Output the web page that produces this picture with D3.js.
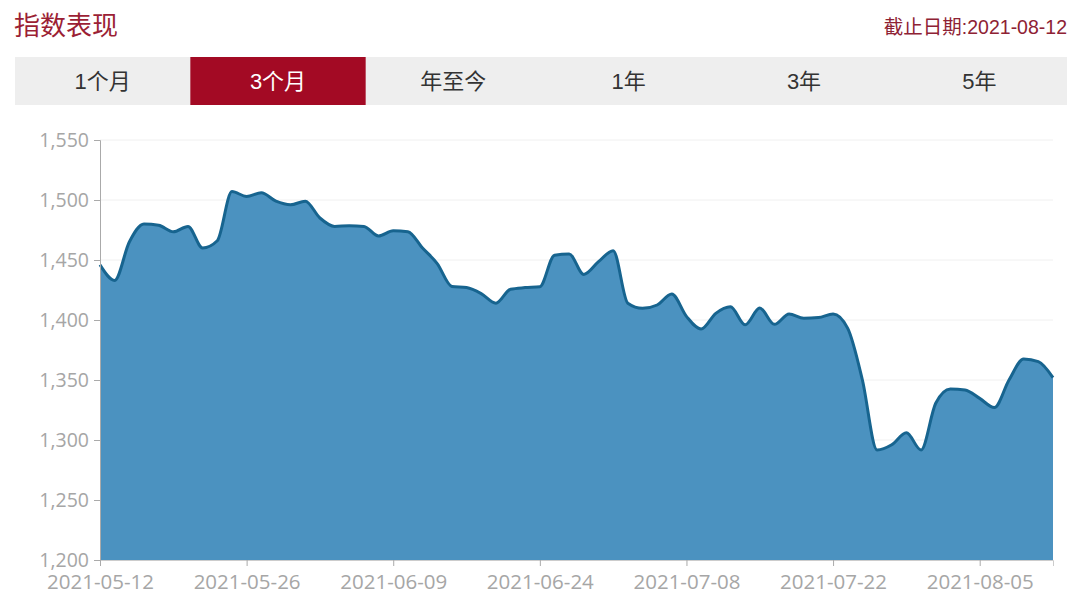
<!DOCTYPE html>
<html><head><meta charset="utf-8">
<script src="https://cdn.jsdelivr.net/npm/d3@7/dist/d3.min.js"></script>
<style>
html,body{margin:0;padding:0;background:#fff;}
svg{display:block;font-family:"Open Sans","Noto Sans CJK SC",sans-serif;}
</style></head>
<body><svg id="c" width="1080" height="598"></svg>
<script>
const dates = ["2021-05-12","2021-05-13","2021-05-14","2021-05-17","2021-05-18","2021-05-19","2021-05-20","2021-05-21","2021-05-24","2021-05-25",
"2021-05-26","2021-05-27","2021-05-28","2021-05-31","2021-06-01","2021-06-02","2021-06-03","2021-06-04","2021-06-07","2021-06-08",
"2021-06-09","2021-06-10","2021-06-11","2021-06-15","2021-06-16","2021-06-17","2021-06-18","2021-06-21","2021-06-22","2021-06-23",
"2021-06-24","2021-06-25","2021-06-28","2021-06-29","2021-06-30","2021-07-01","2021-07-02","2021-07-05","2021-07-06","2021-07-07",
"2021-07-08","2021-07-09","2021-07-12","2021-07-13","2021-07-14","2021-07-15","2021-07-16","2021-07-19","2021-07-20","2021-07-21",
"2021-07-22","2021-07-23","2021-07-26","2021-07-27","2021-07-28","2021-07-29","2021-07-30","2021-08-02","2021-08-03","2021-08-04",
"2021-08-05","2021-08-06","2021-08-09","2021-08-10","2021-08-11","2021-08-12"];
const values = [1446,1433,1465,1480,1479,1473.5,1478,1460,1466,1507,
1503,1506,1499,1496,1499,1485,1478,1478.6,1478,1470,
1474.4,1473.6,1460,1447,1428,1427,1422,1414,1425.6,1427,
1427.8,1454,1455,1438,1448.6,1457.8,1414,1409.7,1412.5,1421.7,
1403,1392.5,1405.5,1411,1396,1410,1396.4,1405,1401.4,1402,
1405,1393,1350,1291.7,1296,1306,1291.7,1330.6,1342.5,1341.7,
1334.7,1327,1350,1367.5,1365.3,1352];
const yTicks = [1200,1250,1300,1350,1400,1450,1500,1550];
const xTickLabels = ["2021-05-12","2021-05-26","2021-06-09","2021-06-24","2021-07-08","2021-07-22","2021-08-05"];
const tabs = ["1个月","3个月","年至今","1年","3年","5年"];
const activeTab = "3个月";
const title = "指数表现";
const asOf = "截止日期:2021-08-12";

const svg = d3.select("#c");
const L = 100, R = 1053, T = 140, B = 560;

svg.append("text").attr("x",14).attr("y",35).attr("font-size",26)
  .attr("fill","#9c1f35").attr("font-family","'Noto Sans CJK SC',sans-serif").text(title);
svg.append("text").attr("x",1067).attr("y",34).attr("font-size",19.5).attr("text-anchor","end")
  .attr("fill","#8e2234").attr("font-family","'Liberation Sans','Noto Sans CJK SC',sans-serif").text(asOf);

// tabs
const tabX = d3.scaleBand().domain(tabs).range([15,1067]);
svg.append("rect").attr("x",15).attr("y",57).attr("width",1052).attr("height",48).attr("fill","#eeeeee");
const tg = svg.append("g").selectAll("g").data(tabs).join("g");
tg.append("rect").attr("x",d=>tabX(d)).attr("y",57).attr("width",tabX.bandwidth()).attr("height",48)
  .attr("fill",d=>d===activeTab?"#a30a24":"none");
tg.append("text").attr("x",d=>tabX(d)+tabX.bandwidth()/2).attr("y",89).attr("text-anchor","middle")
  .attr("font-size",22).attr("font-family","'Liberation Sans','Noto Sans CJK SC',sans-serif")
  .attr("fill",d=>d===activeTab?"#ffffff":"#333333").text(d=>d);

const x = d3.scalePoint().domain(dates).range([L,R]);
const y = d3.scaleLinear().domain([1200,1550]).range([B,T]);

// grid
svg.append("g").selectAll("line").data(yTicks.slice(1)).join("line")
  .attr("x1",L).attr("x2",R).attr("y1",d=>y(d)).attr("y2",d=>y(d))
  .attr("stroke","#f0f0f0").attr("stroke-width",1);

const data = dates.map((d,i)=>({d,v:values[i]}));
const curve = d3.curveMonotoneX;
svg.append("path").datum(data)
  .attr("d",d3.area().x(p=>x(p.d)).y0(B).y1(p=>y(p.v)).curve(curve))
  .attr("fill","#4b92c0");
svg.append("path").datum(data)
  .attr("d",d3.line().x(p=>x(p.d)).y(p=>y(p.v)).curve(curve))
  .attr("fill","none").attr("stroke","#17648f").attr("stroke-width",3).attr("stroke-linejoin","round");

// y axis
const ya = svg.append("g").attr("transform",`translate(${L},0)`)
  .call(d3.axisLeft(y).tickValues(yTicks).tickFormat(d3.format(",")).tickSize(6).tickPadding(5));
ya.select(".domain").attr("stroke","#aaaaaa");
ya.selectAll(".tick line").attr("stroke","#aaaaaa");
ya.selectAll("text").attr("font-size",19.5).attr("fill","#a6a6a6").attr("font-family","'Open Sans',sans-serif");

// x axis
const xa = svg.append("g").attr("transform",`translate(0,${B})`)
  .call(d3.axisBottom(x).tickValues(xTickLabels).tickSize(6).tickPadding(4));
xa.select(".domain").attr("stroke","#cccccc");
xa.selectAll(".tick line").attr("stroke","#aaaaaa");
xa.selectAll("text").attr("font-size",20.5).attr("fill","#a6a6a6").attr("font-family","'Open Sans',sans-serif")
  .attr("dy","0.95em");
</script></body></html>
